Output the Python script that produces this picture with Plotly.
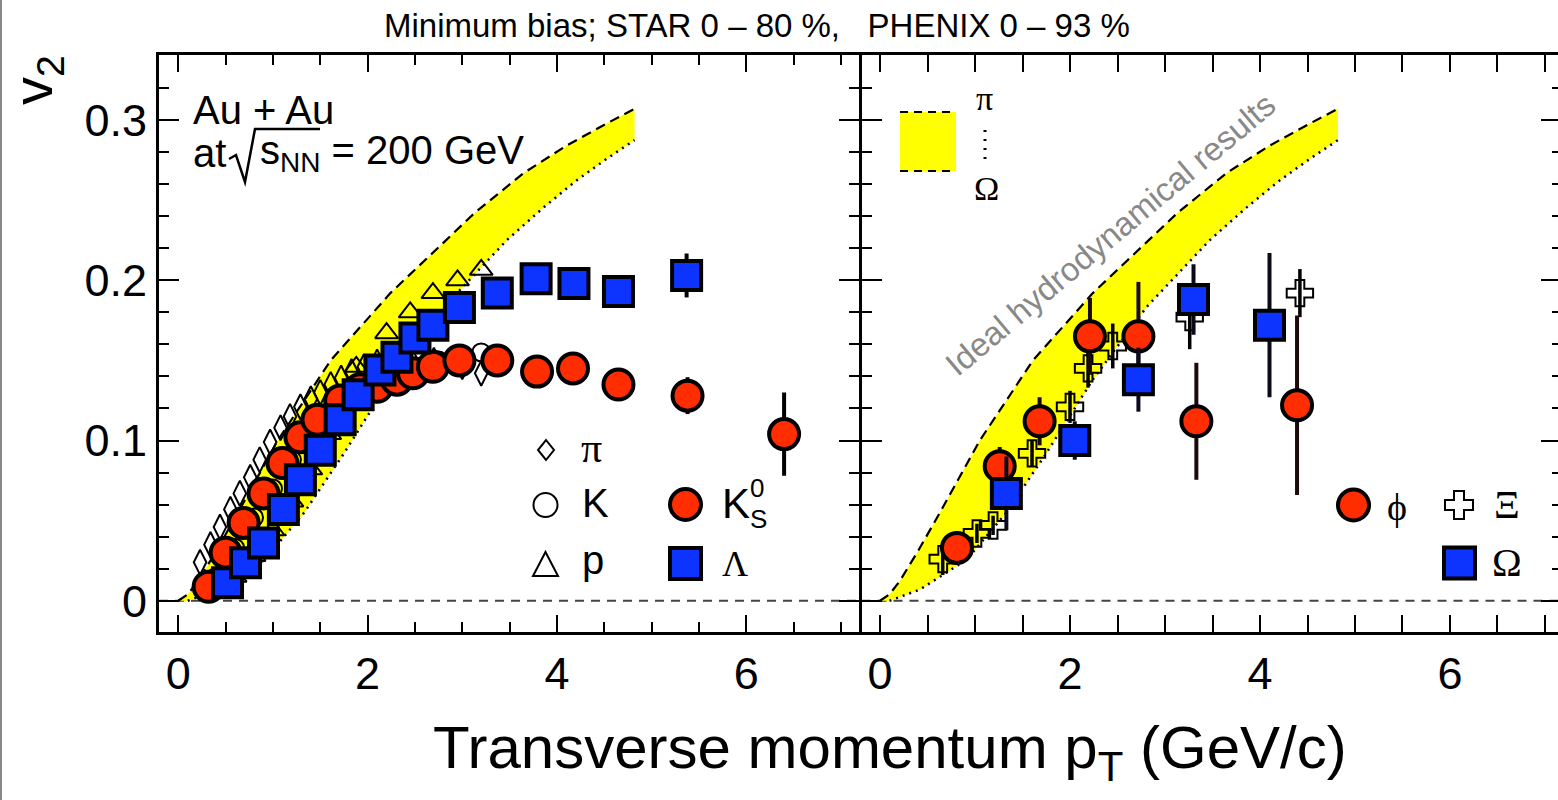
import plotly.graph_objects as go

# ---------------- data ----------------
# ideal hydro band (pion = upper dashed edge, Omega = lower dotted edge)
hydro_pi_x = [0.0, 0.1, 0.21, 0.4, 0.63, 1.05, 1.61, 2.24, 2.81, 3.13, 3.65, 4.10, 4.53, 4.82]
hydro_pi_y = [0.0, 0.004, 0.0125, 0.031, 0.055, 0.100, 0.150, 0.192, 0.224, 0.242, 0.267, 0.284, 0.298, 0.307]
hydro_om_x = [0.1, 0.42, 0.91, 1.33, 1.75, 2.24, 2.81, 3.47, 3.85, 4.2, 4.53, 4.82]
hydro_om_y = [0.0, 0.007, 0.0256, 0.055, 0.092, 0.138, 0.1836, 0.225, 0.245, 0.262, 0.276, 0.2875]

# STAR (left panel)
pi_x = [0.23, 0.34, 0.44, 0.55, 0.65, 0.76, 0.86, 0.97, 1.08, 1.18, 1.29, 1.40, 1.50, 1.61, 1.72, 1.83, 1.96, 2.10, 2.26, 2.45, 2.70, 3.00, 3.20]
pi_y = [0.024, 0.035, 0.046, 0.057, 0.067, 0.077, 0.088, 0.099, 0.108, 0.115, 0.121, 0.126, 0.130, 0.135, 0.139, 0.143, 0.146, 0.149, 0.151, 0.152, 0.150, 0.146, 0.142]

k_x = [0.4, 0.6, 0.8, 1.0, 1.2, 1.4, 1.6, 1.8, 2.0, 2.2, 2.45, 2.75, 3.2]
k_y = [0.015, 0.033, 0.052, 0.070, 0.088, 0.103, 0.116, 0.127, 0.135, 0.141, 0.146, 0.150, 0.155]

p_x = [0.6, 0.8, 1.0, 1.2, 1.4, 1.6, 1.75, 1.88, 2.2, 2.45, 2.69, 2.95, 3.2]
p_y = [0.015, 0.028, 0.044, 0.062, 0.082, 0.104, 0.125, 0.146, 0.167, 0.180, 0.192, 0.200, 0.2065]

k0s_x = [0.32, 0.50, 0.69, 0.90, 1.10, 1.29, 1.47, 1.71, 1.92, 2.10, 2.31, 2.48, 2.69, 2.97, 3.37, 3.79, 4.17, 4.65, 5.38, 6.40]
k0s_y = [0.0087, 0.030, 0.0486, 0.067, 0.086, 0.102, 0.113, 0.125, 0.132, 0.1335, 0.138, 0.142, 0.146, 0.150, 0.150, 0.143, 0.145, 0.135, 0.128, 0.104]
k0s_e = [0.001, 0.001, 0.001, 0.001, 0.001, 0.001, 0.001, 0.001, 0.001, 0.001, 0.001, 0.001, 0.002, 0.002, 0.002, 0.003, 0.004, 0.006, 0.0115, 0.026]

lam_x = [0.52, 0.71, 0.90, 1.11, 1.29, 1.50, 1.71, 1.90, 2.13, 2.31, 2.50, 2.69, 2.97, 3.37, 3.78, 4.18, 4.65, 5.37]
lam_y = [0.0112, 0.0237, 0.036, 0.057, 0.0755, 0.094, 0.113, 0.1285, 0.144, 0.152, 0.164, 0.172, 0.183, 0.192, 0.201, 0.198, 0.193, 0.203]
lam_e = [0.001, 0.001, 0.001, 0.001, 0.001, 0.001, 0.001, 0.001, 0.001, 0.001, 0.001, 0.001, 0.002, 0.002, 0.003, 0.004, 0.006, 0.0137]

# PHENIX (right panel)
xi_x = [0.66, 1.02, 1.19, 1.60, 2.00, 2.19, 2.45, 3.26, 4.42]
xi_y = [0.026, 0.042, 0.047, 0.092, 0.121, 0.145, 0.159, 0.177, 0.192]
xi_e = [0.010, 0.006, 0.006, 0.008, 0.010, 0.012, 0.014, 0.020, 0.015]

phi_x = [0.81, 1.26, 1.68, 2.21, 2.72, 3.33, 4.39]
phi_y = [0.033, 0.084, 0.112, 0.165, 0.165, 0.112, 0.122]
phi_e = [0.010, 0.012, 0.015, 0.024, 0.034, 0.0365, 0.056]

om_x = [1.33, 2.05, 2.72, 3.30, 4.10]
om_y = [0.067, 0.100, 0.138, 0.188, 0.172]
om_e = [0.023, 0.012, 0.020, 0.022, 0.045]

# ---------------- styling / layout ----------------
W, H = 1558, 800
RED = '#ff2d00'
BLUE = '#0d33ff'
YEL = '#ffff00'
SANS = 'Liberation Sans'
SERIF = 'Liberation Serif'


def px(x):
    return x / W


def py(y):
    return 1 - y / H


fig = go.Figure()

for xa, ya in (('x', 'y'), ('x2', 'y2')):
    fig.add_trace(go.Scatter(
        x=hydro_pi_x + hydro_om_x[::-1], y=hydro_pi_y + hydro_om_y[::-1],
        fill='toself', fillcolor=YEL, mode='lines', line=dict(width=0),
        xaxis=xa, yaxis=ya, showlegend=False, hoverinfo='skip'))
    fig.add_trace(go.Scatter(
        x=hydro_pi_x, y=hydro_pi_y, mode='lines',
        line=dict(color='black', width=2.2, dash='10px,6px'),
        xaxis=xa, yaxis=ya, showlegend=False, hoverinfo='skip'))
    fig.add_trace(go.Scatter(
        x=hydro_om_x, y=hydro_om_y, mode='lines',
        line=dict(color='black', width=2.5, dash='2px,5px'),
        xaxis=xa, yaxis=ya, showlegend=False, hoverinfo='skip'))

open_line = dict(color='black', width=2)
fig.add_trace(go.Scatter(x=k_x, y=k_y, mode='markers', xaxis='x', yaxis='y', showlegend=False,
                         marker=dict(symbol='circle-open', size=18, line=open_line, color='black')))
fig.add_trace(go.Scatter(x=p_x, y=p_y, mode='markers', xaxis='x', yaxis='y', showlegend=False,
                         marker=dict(symbol='triangle-up-open', size=20, line=open_line, color='black')))
fig.add_trace(go.Scatter(x=pi_x, y=pi_y, mode='markers', xaxis='x', yaxis='y', showlegend=False,
                         marker=dict(symbol='diamond-tall-open', size=18, line=open_line, color='black')))
fig.add_trace(go.Scatter(x=k0s_x, y=k0s_y, mode='markers', xaxis='x', yaxis='y', showlegend=False,
                         error_y=dict(type='data', array=k0s_e, thickness=4, width=0, color='black'),
                         marker=dict(symbol='circle', size=30, color=RED, line=dict(color='black', width=4))))
fig.add_trace(go.Scatter(x=lam_x, y=lam_y, mode='markers', xaxis='x', yaxis='y', showlegend=False,
                         error_y=dict(type='data', array=lam_e, thickness=4, width=0, color='black'),
                         marker=dict(symbol='square', size=29, color=BLUE, line=dict(color='black', width=4))))

fig.add_trace(go.Scatter(x=xi_x, y=xi_y, mode='markers', xaxis='x2', yaxis='y2', showlegend=False,
                         error_y=dict(type='data', array=xi_e, thickness=3.5, width=0, color='black'),
                         marker=dict(symbol='cross-open', size=22, line=open_line, color='black')))
fig.add_trace(go.Scatter(x=phi_x, y=phi_y, mode='markers', xaxis='x2', yaxis='y2', showlegend=False,
                         error_y=dict(type='data', array=phi_e, thickness=4, width=0, color='#1a0a0a'),
                         marker=dict(symbol='circle', size=30, color=RED, line=dict(color='black', width=4))))
fig.add_trace(go.Scatter(x=om_x, y=om_y, mode='markers', xaxis='x2', yaxis='y2', showlegend=False,
                         error_y=dict(type='data', array=om_e, thickness=4, width=0, color='#0a0a1a'),
                         marker=dict(symbol='square', size=29, color=BLUE, line=dict(color='black', width=4))))
# empty trace so the right-edge tick axis of the right panel is drawn
fig.add_trace(go.Scatter(x=[], y=[], xaxis='x2', yaxis='y3', showlegend=False))

# axes
X_LEFT, X_MID_L, X_MID_R = 159, 858.5, 861.5
Y_TOP, Y_BOT = 55, 632
tickfont = dict(family=SANS, size=45, color='black')
YRANGE = [-0.0195, 0.3406]


def xaxis_style(domain, rng, anchor):
    return dict(domain=domain, range=rng, anchor=anchor, showline=True, linecolor='black', linewidth=3,
                mirror='allticks', ticks='inside', ticklen=17, tickwidth=2, tickcolor='black',
                tick0=0, dtick=2, showgrid=False, zeroline=False, tickfont=tickfont,
                minor=dict(ticks='inside', ticklen=10, tickwidth=2, tickcolor='black', dtick=0.5, showgrid=False))


def yaxis_style(domain, anchor, labels, mirror):
    return dict(domain=domain, range=YRANGE, anchor=anchor, showline=True, linecolor='black',
                linewidth=3, mirror=mirror, ticks='inside', ticklen=20, tickwidth=2, tickcolor='black',
                tick0=0, dtick=0.1, showgrid=False, zeroline=False, tickfont=tickfont,
                showticklabels=labels,
                minor=dict(ticks='inside', ticklen=10, tickwidth=2, tickcolor='black', dtick=0.02, showgrid=False))


ydom = [1 - Y_BOT / H, 1 - Y_TOP / H]
y3 = dict(overlaying='y2', side='right', anchor='x2', range=YRANGE, showline=False, ticks='inside',
          ticklen=17, tickwidth=2, tickcolor='black', tick0=0, dtick=0.1, showgrid=False, zeroline=False,
          showticklabels=False,
          minor=dict(ticks='inside', ticklen=6, tickwidth=2, tickcolor='black', dtick=0.02, showgrid=False))
fig.update_layout(
    width=W, height=H, margin=dict(l=0, r=0, t=0, b=0),
    paper_bgcolor='white', plot_bgcolor='white', showlegend=False,
    xaxis=xaxis_style([X_LEFT / W, X_MID_L / W], [-0.204, 7.186], 'y'),
    xaxis2=xaxis_style([X_MID_R / W, 1.0], [-0.195, 7.137], 'y2'),
    yaxis=yaxis_style(ydom, 'x', True, 'allticks'),
    yaxis2=yaxis_style(ydom, 'x2', False, False),
    yaxis3=y3,
)

shapes = []
# dashed zero lines
for xr, yr in (('x domain', 'y'), ('x2 domain', 'y2')):
    shapes.append(dict(type='line', xref=xr, yref=yr, x0=0, x1=1, y0=0, y1=0, layer='below',
                       line=dict(color='#444444', width=2, dash='9px,7px')))
# left border of the image
shapes.append(dict(type='line', xref='paper', yref='paper', x0=px(1), x1=px(1), y0=0, y1=1,
                   line=dict(color='#888888', width=2)))


def circle_key(cx, cy, r, fill, lw):
    return dict(type='circle', xref='paper', yref='paper', x0=px(cx - r), x1=px(cx + r),
                y0=py(cy + r), y1=py(cy - r), fillcolor=fill, line=dict(color='black', width=lw))


def rect_key(cx, cy, h, fill, lw):
    return dict(type='rect', xref='paper', yref='paper', x0=px(cx - h), x1=px(cx + h),
                y0=py(cy + h), y1=py(cy - h), fillcolor=fill, line=dict(color='black', width=lw))


def path_key(pts, lw=2, close=True):
    d = 'M ' + ' L '.join(f'{px(a):.5f},{py(b):.5f}' for a, b in pts) + (' Z' if close else '')
    return dict(type='path', xref='paper', yref='paper', path=d, line=dict(color='black', width=lw),
                fillcolor='rgba(0,0,0,0)')


# left legend keys
shapes.append(path_key([(546, 440), (554, 450), (546, 460), (538, 450)]))
shapes.append(circle_key(545.5, 505, 12, 'rgba(0,0,0,0)', 2))
shapes.append(path_key([(545.5, 552), (558, 576), (533, 576)]))
shapes.append(circle_key(685.5, 504.5, 15.5, RED, 4))
shapes.append(rect_key(685.5, 563.5, 15.5, BLUE, 4))
# right legend keys
shapes.append(circle_key(1353.5, 505, 15.5, RED, 4))
c, cy, a, b = 1459, 505, 14, 5
shapes.append(path_key([(c - b, cy - a), (c + b, cy - a), (c + b, cy - b), (c + a, cy - b), (c + a, cy + b),
                        (c + b, cy + b), (c + b, cy + a), (c - b, cy + a), (c - b, cy + b), (c - a, cy + b),
                        (c - a, cy - b), (c - b, cy - b)]))
shapes.append(rect_key(1459.5, 563, 15.5, BLUE, 4))
# hydro band legend
shapes.append(dict(type='rect', xref='paper', yref='paper', x0=px(900), x1=px(956), y0=py(171), y1=py(112),
                   fillcolor=YEL, line=dict(width=0)))
for yy in (112, 171):
    shapes.append(dict(type='line', xref='paper', yref='paper', x0=px(900), x1=px(956), y0=py(yy), y1=py(yy),
                       line=dict(color='black', width=2, dash='8px,6px')))
shapes.append(dict(type='line', xref='paper', yref='paper', x0=px(985), x1=px(985), y0=py(130), y1=py(161),
                   line=dict(color='black', width=3, dash='2px,7px')))
# square-root sign with its overline
shapes.append(path_key([(229, 159), (236, 155), (245, 182), (255, 129), (320, 129)], lw=2.5, close=False))
fig.update_layout(shapes=shapes)


def ann(text, x, y, size, family=SANS, xanchor='left', color='black', angle=0, yanchor='middle'):
    return dict(text=text, x=px(x), y=py(y), xref='paper', yref='paper', showarrow=False,
                xanchor=xanchor, yanchor=yanchor, textangle=angle,
                font=dict(family=family, size=size, color=color))


anns = [
    ann('Minimum bias; STAR 0 \u2013 80 %,   PHENIX 0 \u2013 93 %', 757, 26, 33, xanchor='center'),
    ann('Au + Au', 191, 110, 40),
    ann('at', 191, 153, 40),
    ann('s<sub>NN</sub> = 200 GeV', 258, 153, 40),
    ann('Transverse momentum p<sub>T</sub> (GeV/c)', 890, 752, 60, xanchor='center'),
    ann('v<sub>2</sub>', 37, 80, 56, xanchor='center', angle=-90),
    ann('\u03c0', 579, 448, 42, family=SERIF),
    ann('K', 580, 503, 40),
    ann('p', 580, 560, 40),
    ann('K', 720, 503, 42),
    ann('0', 748, 488, 26),
    ann('S', 748, 519, 26),
    ann('\u039b', 720, 564, 36, family=SERIF),
    ann('\u03d5', 1385, 507, 38, family=SERIF),
    ann('\u039e', 1492, 504, 40, family=SERIF),
    ann('\u03a9', 1490, 562, 40, family=SERIF),
    ann('\u03c0', 985, 98, 34, family=SERIF, xanchor='center'),
    ann('\u03a9', 986, 188, 34, family=SERIF, xanchor='center'),
    ann('Ideal hydrodynamical results', 1110, 234, 33, xanchor='center', color='#888888', angle=-40),
]
fig.update_layout(annotations=anns)

fig.write_html('out.html', config={'displayModeBar': False})
